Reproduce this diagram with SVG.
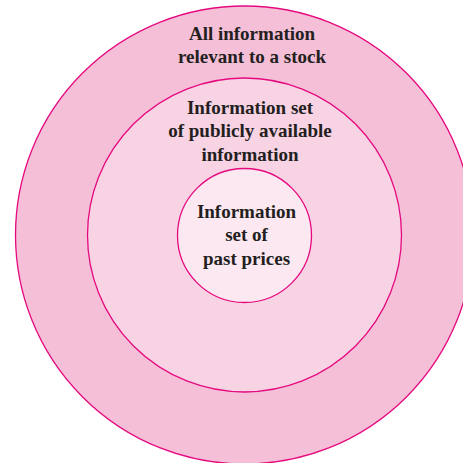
<svg xmlns="http://www.w3.org/2000/svg" width="463" height="463" viewBox="0 0 463 463">
<style>
.ring{stroke:#e5097f;stroke-width:1.3}
.lbl{font-family:"Liberation Serif","Times New Roman",serif;font-weight:bold;font-size:19px;fill:#231f20;text-anchor:middle}
</style>
<rect width="463" height="463" fill="#ffffff"/>
<g id="outer">
<circle class="ring" cx="244.5" cy="235" r="229" fill="#f5bfd7"/>
<text class="lbl" x="252" y="39.5">All information</text>
<text class="lbl" x="252" y="63">relevant to a stock</text>
</g>
<g id="public">
<circle class="ring" cx="244.5" cy="235" r="157" fill="#f8d3e4"/>
<text class="lbl" x="250" y="113.5">Information set</text>
<text class="lbl" x="250" y="137">of publicly available</text>
<text class="lbl" x="250" y="160.5">information</text>
</g>
<g id="past">
<circle class="ring" cx="244.5" cy="235.5" r="67" fill="#fce8f1"/>
<text class="lbl" x="246.5" y="217.5">Information</text>
<text class="lbl" x="246.5" y="241">set of</text>
<text class="lbl" x="246.5" y="264.5">past prices</text>
</g>
<g id="connectors"/>
</svg>
